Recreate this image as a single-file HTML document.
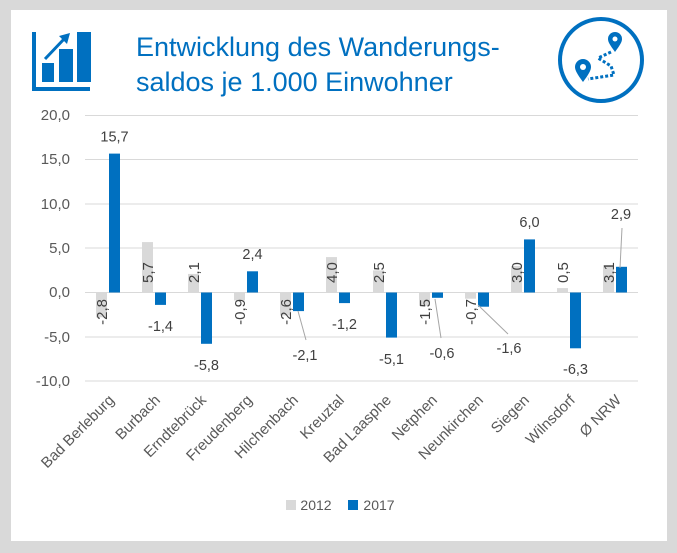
<!DOCTYPE html>
<html><head><meta charset="utf-8"><style>
html,body{margin:0;padding:0;background:#d9d9d9;}
svg{display:block;font-family:"Liberation Sans",sans-serif;}
</style></head><body>
<svg width="677" height="553" viewBox="0 0 677 553" xmlns="http://www.w3.org/2000/svg">
<rect x="0" y="0" width="677" height="553" fill="#d9d9d9"/>
<rect x="11" y="10" width="656" height="531" fill="#fff"/>
<g fill="#0070c0">
<rect x="32" y="32" width="4" height="59"/>
<rect x="32" y="87" width="58" height="4"/>
<rect x="42" y="63" width="12" height="19"/>
<rect x="59" y="49" width="14" height="33"/>
<rect x="77" y="32" width="14" height="50"/>
<line x1="45" y1="59" x2="65" y2="38" stroke="#0070c0" stroke-width="3"/>
<polygon points="70,33 59,36 67,44"/>
</g>
<g>
<circle cx="601" cy="60" r="41" fill="none" stroke="#0070c0" stroke-width="4"/>
<path d="M615,52 C610,45 608,42 608,39 A7,7 0 0 1 622,39 C622,42 620,45 615,52 Z" fill="#0070c0"/>
<circle cx="615" cy="39" r="2.5" fill="#fff"/>
<path d="M583,82 C577,74 575,70 575,67 A8,8 0 0 1 591,67 C591,70 589,74 583,82 Z" fill="#0070c0"/>
<circle cx="583" cy="67" r="3" fill="#fff"/>
<path d="M611,52 L598,58 L611,66 L614,75 L588,79" fill="none" stroke="#0070c0" stroke-width="3" stroke-dasharray="3,2"/>
</g>
<text x="136" y="56" font-size="27" fill="#0070c0">Entwicklung des Wanderungs-</text>
<text x="136" y="91" font-size="27" fill="#0070c0">saldos je 1.000 Einwohner</text>
<g stroke="#d9d9d9" stroke-width="1">
<line x1="85" y1="115.5" x2="638" y2="115.5"/>
<line x1="85" y1="159.5" x2="638" y2="159.5"/>
<line x1="85" y1="204" x2="638" y2="204"/>
<line x1="85" y1="248" x2="638" y2="248"/>
<line x1="85" y1="292.5" x2="638" y2="292.5"/>
<line x1="85" y1="337" x2="638" y2="337"/>
<line x1="85" y1="381" x2="638" y2="381"/>
</g>
<g font-size="15" fill="#595959" text-anchor="end">
<text x="70" y="120">20,0</text>
<text x="70" y="164">15,0</text>
<text x="70" y="209">10,0</text>
<text x="70" y="253">5,0</text>
<text x="70" y="297">0,0</text>
<text x="70" y="342">-5,0</text>
<text x="70" y="386">-10,0</text>
</g>
<g fill="#d9d9d9">
<rect x="96" y="292.5" width="11" height="24.8"/>
<rect x="142" y="242.1" width="11" height="50.4"/>
<rect x="188" y="273.9" width="11" height="18.6"/>
<rect x="234" y="292.5" width="11" height="8"/>
<rect x="280" y="292.5" width="11" height="23"/>
<rect x="326" y="257.1" width="11" height="35.4"/>
<rect x="373" y="270.4" width="11" height="22.1"/>
<rect x="419" y="292.5" width="11" height="13.3"/>
<rect x="465" y="292.5" width="11" height="6.2"/>
<rect x="511" y="265.9" width="11" height="26.6"/>
<rect x="557" y="288.1" width="11" height="4.4"/>
<rect x="603" y="265.1" width="11" height="27.4"/>
</g>
<g fill="#0070c0">
<rect x="109" y="153.6" width="11" height="138.9"/>
<rect x="155" y="292.5" width="11" height="12.4"/>
<rect x="201" y="292.5" width="11" height="51.3"/>
<rect x="247" y="271.3" width="11" height="21.2"/>
<rect x="293" y="292.5" width="11" height="18.6"/>
<rect x="339" y="292.5" width="11" height="10.6"/>
<rect x="386" y="292.5" width="11" height="45.1"/>
<rect x="432" y="292.5" width="11" height="5.3"/>
<rect x="478" y="292.5" width="11" height="14.2"/>
<rect x="524" y="239.4" width="11" height="53.1"/>
<rect x="570" y="292.5" width="11" height="55.8"/>
<rect x="616" y="266.8" width="11" height="25.7"/>
</g>
<g font-size="15" fill="#404040">
<text transform="translate(107,299) rotate(-90)" text-anchor="end">-2,8</text>
<text transform="translate(153,283) rotate(-90)">5,7</text>
<text transform="translate(199,283) rotate(-90)">2,1</text>
<text transform="translate(245,299) rotate(-90)" text-anchor="end">-0,9</text>
<text transform="translate(291,299) rotate(-90)" text-anchor="end">-2,6</text>
<text transform="translate(337,283) rotate(-90)">4,0</text>
<text transform="translate(384,283) rotate(-90)">2,5</text>
<text transform="translate(430,299) rotate(-90)" text-anchor="end">-1,5</text>
<text transform="translate(476,299) rotate(-90)" text-anchor="end">-0,7</text>
<text transform="translate(522,283) rotate(-90)">3,0</text>
<text transform="translate(568,283) rotate(-90)">0,5</text>
<text transform="translate(614,283) rotate(-90)">3,1</text>
</g>
<g font-size="14.5" fill="#404040" text-anchor="middle">
<text x="114.5" y="141.6">15,7</text>
<text x="160.5" y="331">-1,4</text>
<text x="206.5" y="370">-5,8</text>
<text x="252.5" y="259">2,4</text>
<text x="305" y="360">-2,1</text>
<text x="344.5" y="329">-1,2</text>
<text x="391.5" y="364">-5,1</text>
<text x="442" y="358">-0,6</text>
<text x="509" y="353">-1,6</text>
<text x="529.5" y="227">6,0</text>
<text x="575.5" y="374">-6,3</text>
<text x="621" y="219">2,9</text>
</g>
<g font-size="15" fill="#595959" text-anchor="end">
<text transform="translate(115,401) rotate(-45)">Bad Berleburg</text>
<text transform="translate(161,401) rotate(-45)">Burbach</text>
<text transform="translate(207,401) rotate(-45)">Erndtebrück</text>
<text transform="translate(253,401) rotate(-45)">Freudenberg</text>
<text transform="translate(299,401) rotate(-45)">Hilchenbach</text>
<text transform="translate(345,401) rotate(-45)">Kreuztal</text>
<text transform="translate(392,401) rotate(-45)">Bad Laasphe</text>
<text transform="translate(438,401) rotate(-45)">Netphen</text>
<text transform="translate(484,401) rotate(-45)">Neunkirchen</text>
<text transform="translate(530,401) rotate(-45)">Siegen</text>
<text transform="translate(576,401) rotate(-45)">Wilnsdorf</text>
<text transform="translate(622,401) rotate(-45)">Ø NRW</text>
</g>
<g font-size="14" fill="#595959" text-anchor="middle">
<rect x="286" y="500" width="10" height="10" fill="#d9d9d9"/>
<text x="316" y="510">2012</text>
<rect x="348" y="500" width="10" height="10" fill="#0070c0"/>
<text x="379" y="510">2017</text>
</g>
<g stroke="#a6a6a6" stroke-width="1">
<line x1="298" y1="311" x2="306" y2="340"/>
<line x1="435" y1="299" x2="441" y2="338"/>
<line x1="478" y1="305" x2="508" y2="334"/>
<line x1="622" y1="228" x2="620" y2="268"/>
</g>
</svg>
</body></html>
